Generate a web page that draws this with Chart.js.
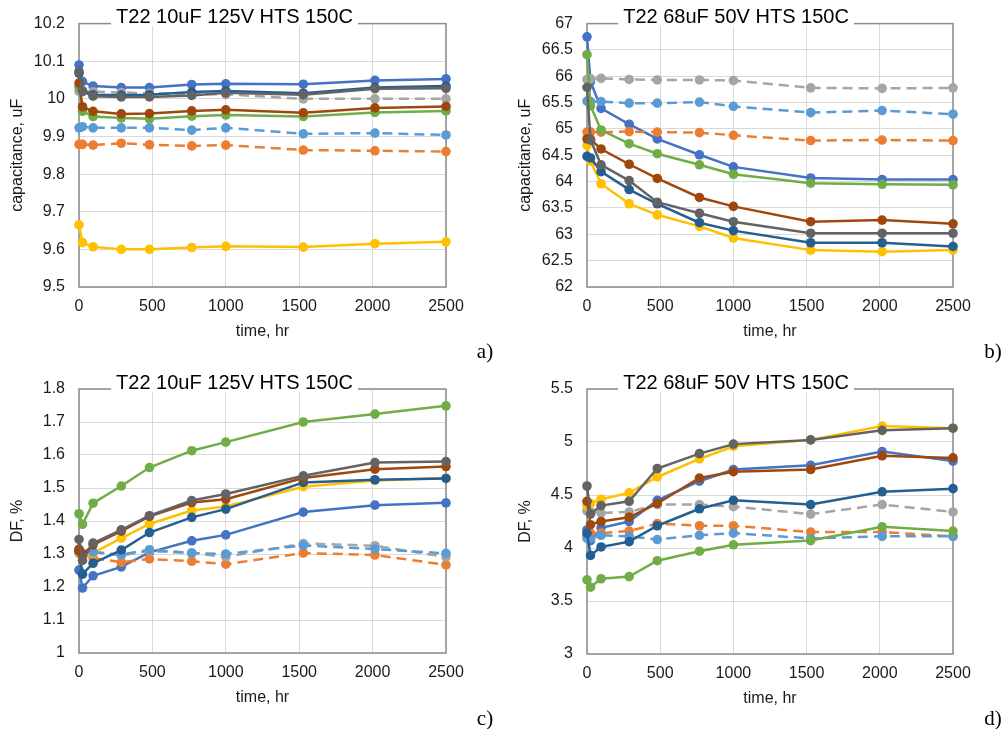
<!DOCTYPE html>
<html>
<head>
<meta charset="utf-8">
<title>T22 HTS 150C</title>
<script src="https://cdn.jsdelivr.net/npm/chart.js@4.4.1/dist/chart.umd.min.js"></script>
<style>
  html, body { margin: 0; padding: 0; background: #fff; }
  body { width: 1006px; height: 729px; position: relative; overflow: hidden; }
  .panel { position: absolute; }
  .tag { position: absolute; font-family: "Liberation Serif", "Times New Roman", serif; font-size: 21px; color: #000; transform: translate(-50%, -50%); }
</style>
</head>
<body>
<div class="panel" style="left:0;top:0;width:500px;height:345px"><canvas id="capSmall"></canvas></div>
<div class="panel" style="left:500px;top:0;width:506px;height:345px"><canvas id="capBig"></canvas></div>
<div class="panel" style="left:0;top:360px;width:500px;height:351px"><canvas id="dfSmall"></canvas></div>
<div class="panel" style="left:500px;top:360px;width:506px;height:352px"><canvas id="dfBig"></canvas></div>
<div class="tag" style="left:485px;top:351px">a)</div>
<div class="tag" style="left:993px;top:351px">b)</div>
<div class="tag" style="left:485px;top:718px">c)</div>
<div class="tag" style="left:993px;top:718px">d)</div>
<script>
// test hours
const hours = [0, 24, 96, 288, 480, 768, 1000, 1528, 2016, 2500];

// series order: blue, orange--, gray--, yellow, light blue--, green, dark blue, brown, dark gray
const seriesColors = ['#4472C4', '#ED7D31', '#A5A5A5', '#FFC000', '#5B9BD5', '#70AD47', '#255E91', '#9E480E', '#636363'];
const seriesDashed = [false, true, true, false, true, false, false, false, false];

// a) capacitance, 10uF 125V
const cap10uF = [
    [10.090, 10.046, 10.034, 10.030, 10.030, 10.038, 10.040, 10.039, 10.049, 10.053],
    [9.879, 9.879, 9.877, 9.882, 9.878, 9.875, 9.877, 9.864, 9.862, 9.860],
    [10.020, 10.019, 10.019, 10.017, 10.015, 10.013, 10.012, 10.000, 10.000, 10.000],
    [9.665, 9.618, 9.607, 9.600, 9.600, 9.605, 9.608, 9.606, 9.615, 9.620],
    [9.923, 9.926, 9.923, 9.923, 9.923, 9.917, 9.923, 9.907, 9.909, 9.904],
    [10.032, 9.967, 9.953, 9.949, 9.947, 9.954, 9.957, 9.953, 9.964, 9.968],
    [10.068, 10.021, 10.011, 10.010, 10.011, 10.018, 10.021, 10.015, 10.030, 10.034],
    [10.042, 9.979, 9.967, 9.960, 9.961, 9.968, 9.971, 9.963, 9.976, 9.980],
    [10.073, 10.020, 10.007, 10.005, 10.005, 10.009, 10.016, 10.011, 10.027, 10.028]
];

// b) capacitance, 68uF 50V
const cap68uF = [
    [66.75, 65.90, 65.39, 65.09, 64.81, 64.51, 64.28, 64.07, 64.04, 64.04],
    [64.94, 64.94, 64.94, 64.95, 64.94, 64.93, 64.88, 64.78, 64.79, 64.78],
    [65.94, 65.95, 65.96, 65.94, 65.93, 65.93, 65.92, 65.78, 65.77, 65.78],
    [64.69, 64.39, 63.96, 63.58, 63.37, 63.15, 62.93, 62.70, 62.67, 62.70],
    [65.53, 65.52, 65.52, 65.49, 65.49, 65.51, 65.43, 65.31, 65.35, 65.28],
    [66.41, 65.44, 64.98, 64.72, 64.53, 64.32, 64.14, 63.97, 63.95, 63.94],
    [64.48, 64.45, 64.19, 63.85, 63.58, 63.22, 63.07, 62.84, 62.84, 62.77],
    [64.81, 64.80, 64.62, 64.33, 64.06, 63.70, 63.53, 63.24, 63.27, 63.20],
    [65.79, 64.79, 64.32, 64.02, 63.61, 63.40, 63.24, 63.02, 63.02, 63.02]
];

// c) DF, 10uF 125V
const df10uF = [
    [1.251, 1.197, 1.234, 1.261, 1.305, 1.340, 1.358, 1.427, 1.448, 1.455],
    [1.302, 1.298, 1.288, 1.275, 1.285, 1.278, 1.269, 1.303, 1.297, 1.267],
    [1.310, 1.300, 1.306, 1.296, 1.309, 1.303, 1.291, 1.332, 1.325, 1.291],
    [1.306, 1.295, 1.303, 1.348, 1.391, 1.432, 1.444, 1.504, 1.523, 1.530],
    [1.308, 1.302, 1.306, 1.298, 1.313, 1.303, 1.300, 1.326, 1.315, 1.302],
    [1.422, 1.390, 1.454, 1.506, 1.562, 1.613, 1.639, 1.700, 1.724, 1.749],
    [1.310, 1.239, 1.272, 1.312, 1.365, 1.411, 1.436, 1.517, 1.525, 1.529],
    [1.315, 1.298, 1.328, 1.369, 1.414, 1.456, 1.466, 1.530, 1.557, 1.565],
    [1.344, 1.281, 1.333, 1.373, 1.416, 1.462, 1.482, 1.537, 1.577, 1.580]
];

// d) DF, 68uF 50V
const df68uF = [
    [4.17, 4.07, 4.19, 4.25, 4.45, 4.63, 4.74, 4.78, 4.91, 4.82],
    [4.12, 4.14, 4.14, 4.16, 4.23, 4.21, 4.21, 4.15, 4.15, 4.11],
    [4.35, 4.34, 4.33, 4.34, 4.41, 4.41, 4.39, 4.32, 4.41, 4.34],
    [4.40, 4.42, 4.46, 4.52, 4.67, 4.84, 4.96, 5.02, 5.15, 5.13],
    [4.09, 4.09, 4.12, 4.11, 4.08, 4.12, 4.14, 4.09, 4.11, 4.11],
    [3.70, 3.63, 3.71, 3.73, 3.88, 3.97, 4.03, 4.07, 4.20, 4.16],
    [4.14, 3.93, 4.01, 4.06, 4.21, 4.37, 4.45, 4.41, 4.53, 4.56],
    [4.44, 4.22, 4.25, 4.29, 4.42, 4.66, 4.72, 4.74, 4.87, 4.85],
    [4.585, 4.32, 4.40, 4.44, 4.75, 4.89, 4.98, 5.02, 5.11, 5.13]
];

Chart.defaults.font.family = '"Liberation Sans", Arial, sans-serif';
Chart.defaults.font.size = 16;
Chart.defaults.color = '#1a1a1a';

// plot area frame + title sitting on the top border
const panelFrame = {
    id: 'panelFrame',
    beforeDatasetsDraw(chart, args, opts) {
        const { ctx, chartArea: a } = chart;
        ctx.save();
        ctx.strokeStyle = '#8c8c8c';
        ctx.lineWidth = 1.5;
        ctx.strokeRect(a.left, a.top, a.right - a.left, a.bottom - a.top);
        ctx.font = '20px "Liberation Sans", Arial, sans-serif';
        const w = ctx.measureText(opts.text).width;
        const cx = (a.left + a.right) / 2 + opts.shift;
        ctx.fillStyle = '#fff';
        ctx.fillRect(cx - w / 2 - 5, a.top - 3, w + 10, 6);
        ctx.fillStyle = '#000';
        ctx.textAlign = 'center';
        ctx.textBaseline = 'middle';
        ctx.fillText(opts.text, cx, a.top - 6);
        ctx.restore();
    }
};

const plainNumber = v => String(Math.round(v * 100) / 100);

function makePanel(id, values, yMin, yMax, yStep, yTitle, title, axisW, yTitlePad, padTop, padRight, shift) {
    const datasets = values.map((row, i) => ({
        data: row.map((v, j) => ({ x: hours[j], y: v })),
        borderColor: seriesColors[i],
        backgroundColor: seriesColors[i],
        borderDash: seriesDashed[i] ? [10, 6] : [],
        borderWidth: 2.5,
        pointRadius: 4.8,
        pointHoverRadius: 4.8,
        pointBorderWidth: 0,
        tension: 0,
        clip: false,
        order: values.length - i
    }));
    return new Chart(document.getElementById(id), {
        type: 'line',
        data: { datasets },
        plugins: [panelFrame],
        options: {
            responsive: true,
            maintainAspectRatio: false,
            animation: false,
            layout: { padding: { top: padTop, right: padRight, left: 0, bottom: 0 } },
            plugins: {
                legend: { display: false },
                tooltip: { enabled: false },
                panelFrame: { text: title, shift: shift }
            },
            scales: {
                x: {
                    type: 'linear',
                    min: 0, max: 2500,
                    ticks: { stepSize: 500, padding: 10, callback: plainNumber },
                    grid: { color: '#d9d9d9', drawTicks: false },
                    border: { display: false },
                    title: { display: true, text: 'time, hr', padding: { top: 0, bottom: 4 } },
                    afterFit: s => { s.height = 58; }
                },
                y: {
                    min: yMin, max: yMax,
                    ticks: { stepSize: yStep, padding: 14, callback: plainNumber },
                    grid: { color: '#d9d9d9', drawTicks: false },
                    border: { display: false },
                    title: { display: true, text: yTitle, padding: { top: yTitlePad, bottom: 0 } },
                    afterFit: s => { s.width = axisW; }
                }
            }
        }
    });
}

makePanel('capSmall', cap10uF, 9.5, 10.2, 0.1, 'capacitance, uF', 'T22 10uF 125V HTS 150C', 79, 8, 22, 54, -28);
makePanel('capBig', cap68uF, 62, 67, 0.5, 'capacitance, uF', 'T22 68uF 50V HTS 150C', 87, 16, 22, 53, -34);
makePanel('dfSmall', df10uF, 1, 1.8, 0.1, 'DF, %', 'T22 10uF 125V HTS 150C', 79, 8, 29, 54, -28);
makePanel('dfBig', df68uF, 3, 5.5, 0.5, 'DF, %', 'T22 68uF 50V HTS 150C', 87, 16, 29, 53, -34);
</script>
</body>
</html>
